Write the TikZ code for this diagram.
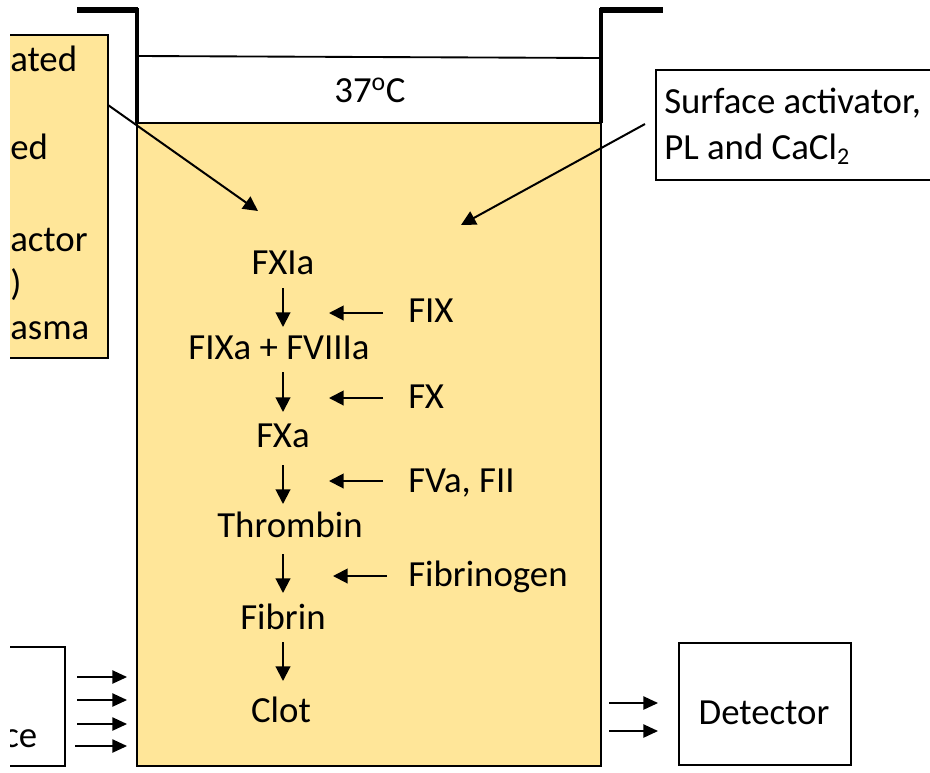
\documentclass[tikz,border=0pt]{standalone}
\usepackage{fontspec}
\setmainfont{Carlito}
\usetikzlibrary{arrows.meta}
\definecolor{fillyel}{HTML}{FFE699}
\tikzset{
  txt/.style={font=\fontsize{27.6}{32}\selectfont, inner sep=0pt},
  flow/.style={line width=1.5pt, -{Triangle[length=11pt,width=11pt]}},
  side/.style={line width=1.5pt, -{Triangle[length=11pt,width=11pt]}},
  thinarr/.style={line width=1pt, -{Triangle[length=11pt,width=10pt]}},
  wall/.style={line width=2.4pt},
  bar/.style={line width=5pt},
  bx/.style={draw=black, line width=1.6pt}
}
\begin{document}
\begin{tikzpicture}[x=0.75pt,y=-0.75pt]
\useasboundingbox (0,0) rectangle (930,772);
\begin{scope}
\clip (10,0) rectangle (930,772);
% left yellow box
\draw[bx, fill=fillyel] (-20,35) rectangle (108,358);
% bottom-left box
\draw[bx, fill=white] (-20,647) rectangle (65,766);
\end{scope}
\node[txt, anchor=base west] (t1) at (10,71) {ated};
\node[txt, anchor=base west] (t2) at (10,159) {ed};
\node[txt, anchor=base west] (t3) at (10,251) {actor};
\node[txt, anchor=base west] (t4) at (10,295) {)};
\node[txt, anchor=base west] (t5) at (10,339) {asma};
\begin{scope}
\clip (10,640) rectangle (70,770);
\node[txt, anchor=base west] (t6) at (3,747) {ce};
\end{scope}
% vessel
\draw[bx, fill=fillyel] (137,123) rectangle (601,766);
\draw[wall] (137,8) -- (137,123);
\draw[wall] (601,8) -- (601,123);
\draw[bar] (77,10) -- (138.2,10);
\draw[bar] (599.8,10) -- (663,10);
\draw[line width=1.4pt] (138,56) -- (600,58);
\node[txt] (temp) at (370,90) {37\textsuperscript{o}C};
% surface activator box
\node[bx, draw, inner sep=0pt, minimum width=276pt*0.75, minimum height=110pt*0.75, anchor=north west] (sa) at (655,69) {};
\node[txt, anchor=base west] (sat) at (664,113) {Surface activator,};
\node[txt, anchor=base west] (sat2) at (664,159) {PL and CaCl\raisebox{-0.3ex}{\fontsize{18}{20}\selectfont 2}};
% cascade
\node[txt] (fxia) at (283,263) {FXIa};
\node[txt] (fixa) at (279,348) {FIXa + FVIIIa};
\node[txt] (fxa) at (283,436) {FXa};
\node[txt] (thr) at (290,525) {Thrombin};
\node[txt] (fib) at (283,617) {Fibrin};
\node[txt] (clot) at (281,710) {Clot};
\coordinate (a1s) at (283,288); \coordinate (a1e) at (283,327);
\coordinate (a2s) at (283,372); \coordinate (a2e) at (283,412);
\coordinate (a3s) at (283,465); \coordinate (a3e) at (283,504);
\coordinate (a4s) at (283,554); \coordinate (a4e) at (283,593);
\coordinate (a5s) at (283,642); \coordinate (a5e) at (283,681);
\draw[flow] (a1s) -- (a1e);
\draw[flow] (a2s) -- (a2e);
\draw[flow] (a3s) -- (a3e);
\draw[flow] (a4s) -- (a4e);
\draw[flow] (a5s) -- (a5e);
% side inputs
\node[txt, anchor=west] (fix) at (408,311) {FIX};
\node[txt, anchor=west] (fx) at (408,397) {FX};
\node[txt, anchor=west] (fva) at (408,483) {FVa, FII};
\node[txt, anchor=west] (fbg) at (408,577) {Fibrinogen};
\coordinate (s1) at (329,313); \coordinate (s2) at (329,398);
\coordinate (s3) at (329,481); \coordinate (s4) at (333,576);
\draw[side] (383,313) -- (s1);
\draw[side] (383,398) -- (s2);
\draw[side] (383,481) -- (s3);
\draw[side] (387,576) -- (s4);
% input arrows into vessel
\coordinate (la) at (108,105); \coordinate (lt) at (258,211);
\draw[side] (la) -- (lt);
\coordinate (ra) at (645,124); \coordinate (rt) at (461,225);
\draw[side] (ra) -- (rt);
% light arrows
\foreach \yy/\xs in {677/77,700/77,724/77,746/75}{
  \draw[thinarr] (\xs,\yy) -- (127,\yy);
}
% detector
\node[bx, draw, inner sep=0pt, minimum width=172pt*0.75, minimum height=122pt*0.75, anchor=north west] (det) at (678,642) {};
\node[txt] (dett) at (764,713) {Detector};
\draw[thinarr] (609,703) -- (658,703);
\draw[thinarr] (609,731) -- (658,731);
\end{tikzpicture}
\end{document}
